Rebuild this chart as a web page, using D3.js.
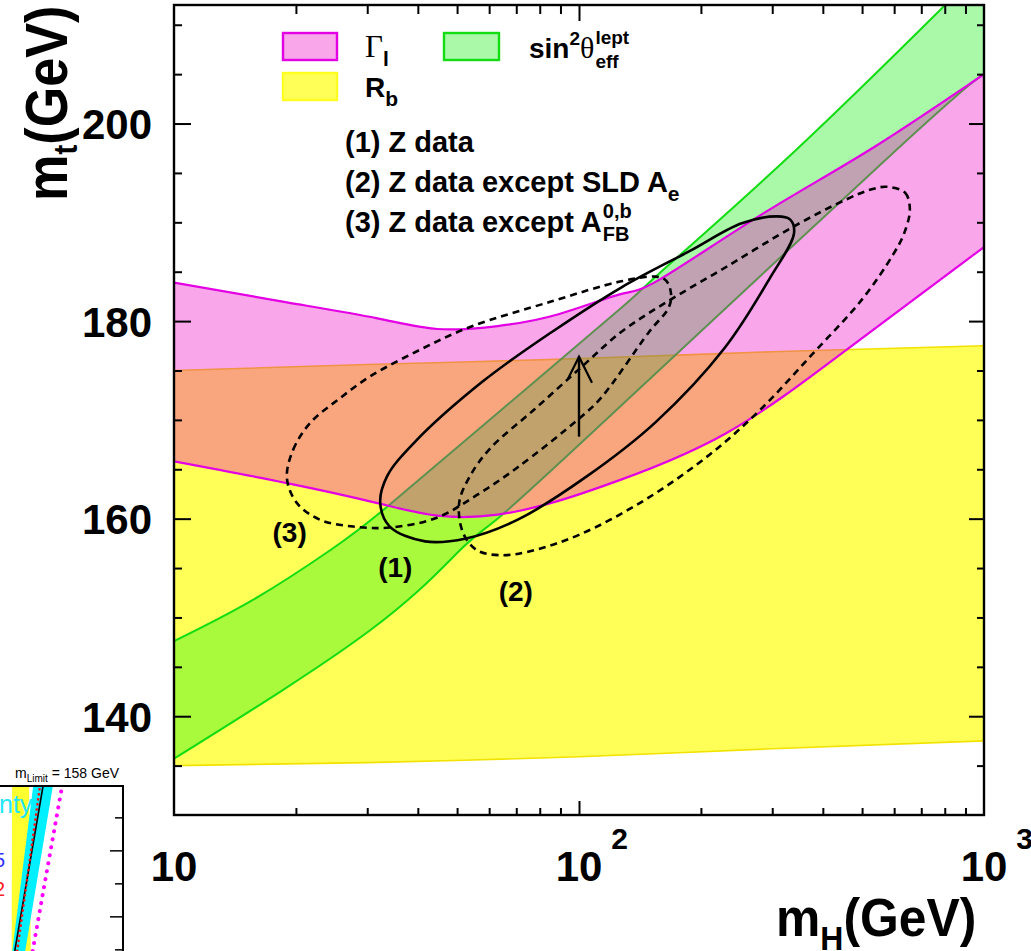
<!DOCTYPE html>
<html lang="en">
<head>
<meta charset="UTF-8">
<title>m_t versus m_H from Z data</title>
<script src="https://d3js.org/d3.v7.min.js"></script>
<style>
  body { margin: 0; background: #fff; }
  svg { display: block; font-family: 'Liberation Sans', Arial, sans-serif; }
  .b { font-weight: bold; }
  .tick line { stroke: #000; stroke-width: 2px; }
</style>
</head>
<body>
<div id="chart"></div>
<script>
// band edges, [mH (GeV), mt (GeV)]
const rbUpper = [[10,175.0],[30,175.6],[100,176.2],[300,176.9],[1000,177.5]];
const rbLower = [[10,135.0],[30,135.3],[100,135.9],[300,136.7],[1000,137.5]];

const gammaUpper = [[10,183.9],[19,181.9],[31.6,180.3],[44.7,179.2],[63,179.5],[89,180.7],
                    [126,182.7],[158,184.2],[280,190.7],[525,197.4],[1000,205.0]];
const gammaLower = [[10,165.8],[19,163.6],[31.6,161.6],[44.7,160.3],[63,160.4],[89,161.8],
                    [126,163.9],[232,168.7],[468,177.4],[1000,187.5]];

const sinUpper = [[10,147.6],[15.7,151.8],[24.3,156.8],[33.6,161.2],[63,170.7],[126,181.2],
                  [158.5,184.9],[345,197.4],[802,212.0],[1000,215.8]];
const sinLower = [[10,135.7],[30.5,148.7],[50.8,156.8],[63.8,160.2],[126,171.3],[610,197.4],[1000,205.0]];

// contours
const zData = [[32.3,161.6],[34.1,159.2],[41.7,157.7],[52.6,158.0],[70.6,159.9],[104.7,164.3],
               [154.9,169.8],[229.1,177.3],[296.5,184.4],[339.6,188.9],[331.9,190.3],[308.3,190.6],
               [252.3,189.9],[187.9,187.1],[127.1,183.4],[85.7,178.9],[57.9,173.9],[39.2,167.7],[33.6,164.3]];
const zNoSLD = [[575.4,193.6],[638.3,193.0],[656.1,191.3],[633.9,188.8],[595.7,186.7],[500.0,182.2],
                [375.8,176.6],[279.9,171.0],[210.4,166.5],[145.5,161.9],[100.5,158.4],[75.7,156.7],
                [63.8,156.3],[56.0,156.8],[51.8,158.5],[50.6,161.6],[53.8,164.3],[60.3,167.1],
                [77.8,171.1],[100.5,175.2],[127.1,178.9],[161.1,181.7],[229.1,185.4],[339.6,189.6],
                [456.0,192.3],[523.6,193.3]];
const zNoAfb = [[19.0,164.1],[19.7,167.0],[21.7,169.7],[25.7,172.2],[30.5,174.4],[40.5,177.1],
                [53.8,179.4],[85.7,182.0],[126.2,184.0],[154.9,184.5],[164.1,184.1],[168.7,182.8],
                [166.7,181.4],[148.9,178.9],[113.2,172.2],[100.5,170.2],[70.6,165.2],[56.0,162.4],
                [44.6,160.1],[34.1,159.1],[27.7,159.2],[22.9,159.9],[20.1,161.6]];

const curveLabels = [
  { text: "(1)", mH: 35.2, mt: 154.1 },
  { text: "(2)", mH: 69.8, mt: 151.7 },
  { text: "(3)", mH: 19.3, mt: 157.6 }
];
const arrowMH = 100, arrowFrom = 168.3, arrowTo = 176.4;

const mtMajor = [140, 160, 180, 200];
const mtMinor = [135, 145, 150, 155, 165, 170, 175, 185, 190, 195, 205, 210];
const mhMajor = [100];
const mhMinor = [20, 30, 40, 50, 60, 70, 80, 90, 200, 300, 400, 500, 600, 700, 800, 900];
const mhLabels = [[10, ""], [100, "2"], [1000, "3"]];

// cropped piece of a neighbouring figure (arbitrary units 0..10)
const insetBlack = [[1.2,0],[3.5,10]];
const insetRed = [[1.4,0],[3.25,10]];
const insetMagenta = [[2.65,0],[5.05,10]];
const insetCyan = [[[1.0,0],[2.7,10]], [[2.05,0],[4.3,10]]];
const insetYellow = [[[0.95,0],[0.98,10]], [[2.5,0],[2.36,10]]];
const insetTicks = [0.1, 2.1, 4.1, 6.1, 8.1];
const insetMajor = [2.1, 6.1];

const W = 1031, H = 951;
const svg = d3.select("#chart").append("svg").attr("width", W).attr("height", H);

const x = d3.scaleLog().domain([10, 1000]).range([174, 984]);
const y = d3.scaleLinear().domain([130, 212]).range([815, 5]);

svg.append("clipPath").attr("id", "plot")
  .append("rect").attr("x", 174).attr("y", 5).attr("width", 810).attr("height", 810);

const edge = d3.line().x(d => x(d[0])).y(d => y(d[1])).curve(d3.curveNatural);
const loop = d3.line().x(d => x(d[0])).y(d => y(d[1])).curve(d3.curveCatmullRomClosed.alpha(0.5));
function band(up, low) {
  return edge(up) + "L" + edge(low.slice().reverse()).slice(1) + "Z";
}

const plot = svg.append("g").attr("clip-path", "url(#plot)");

// R_b
plot.append("path").attr("d", band(rbUpper, rbLower)).attr("fill", "#ffff58");
[rbUpper, rbLower].forEach(e => plot.append("path").attr("d", edge(e))
  .attr("fill", "none").attr("stroke", "#f2e200").attr("stroke-width", 1.6));

// sin2theta
plot.append("path").attr("d", band(sinUpper, sinLower)).attr("fill", "rgba(10,238,10,0.35)");
[sinUpper, sinLower].forEach(e => plot.append("path").attr("d", edge(e))
  .attr("fill", "none").attr("stroke", "#12dd12").attr("stroke-width", 2));

// Gamma_l
plot.append("path").attr("d", band(gammaUpper, gammaLower)).attr("fill", "rgba(238,0,198,0.35)");
[gammaUpper, gammaLower].forEach(e => plot.append("path").attr("d", edge(e))
  .attr("fill", "none").attr("stroke", "#e400e4").attr("stroke-width", 2.2));

// contours
plot.append("path").attr("d", loop(zData)).attr("fill", "none")
  .attr("stroke", "#000").attr("stroke-width", 2.6);
[zNoSLD, zNoAfb].forEach(c => plot.append("path").attr("d", loop(c)).attr("fill", "none")
  .attr("stroke", "#000").attr("stroke-width", 2.6).attr("stroke-dasharray", "7 5"));

// arrow
svg.append("defs").append("marker").attr("id", "head")
  .attr("markerUnits", "userSpaceOnUse").attr("markerWidth", 60).attr("markerHeight", 60)
  .attr("refX", 30).attr("refY", 30).attr("orient", "auto")
  .append("path").attr("d", "M8,19 L30,30 L4,43").attr("fill", "none")
  .attr("stroke", "#000").attr("stroke-width", 2.2);
plot.append("line")
  .attr("x1", x(arrowMH)).attr("x2", x(arrowMH))
  .attr("y1", y(arrowFrom)).attr("y2", y(arrowTo))
  .attr("stroke", "#000").attr("stroke-width", 2.4).attr("marker-end", "url(#head)");

plot.selectAll(".clab").data(curveLabels).join("text")
  .attr("class", "b").attr("x", d => x(d.mH)).attr("y", d => y(d.mt))
  .attr("text-anchor", "middle").style("font-size", "28px").text(d => d.text);

// axes with inward ticks
function ticks(axis, tx, ty) {
  svg.append("g").attr("transform", `translate(${tx},${ty})`).call(axis)
    .call(g => g.select(".domain").remove());
}
ticks(d3.axisLeft(y).tickValues(mtMinor).tickSize(-8).tickFormat(""), 174, 0);
ticks(d3.axisRight(y).tickValues(mtMinor).tickSize(-7).tickFormat(""), 984, 0);
ticks(d3.axisRight(y).tickValues(mtMajor).tickSize(-15).tickFormat(""), 984, 0);
ticks(d3.axisTop(x).tickValues(mhMinor).tickSize(-9).tickFormat(""), 0, 5);
ticks(d3.axisTop(x).tickValues(mhMajor).tickSize(-16).tickFormat(""), 0, 5);
ticks(d3.axisBottom(x).tickValues(mhMinor).tickSize(-7).tickFormat(""), 0, 815);
ticks(d3.axisBottom(x).tickValues(mhMajor).tickSize(-14).tickFormat(""), 0, 815);

svg.append("g").attr("transform", "translate(174,0)")
  .call(d3.axisLeft(y).tickValues(mtMajor).tickSize(-17).tickPadding(22).tickFormat(d3.format("d")))
  .call(g => g.select(".domain").remove())
  .call(g => g.selectAll("text").attr("class", "b").attr("fill", "#000")
    .attr("dy", "0.36em").style("font-size", "42px").style("font-family", "'Liberation Sans', Arial, sans-serif"));

mhLabels.forEach(([v, p]) => {
  const t = svg.append("text").attr("class", "b").attr("x", x(v)).attr("y", 881)
    .attr("text-anchor", "middle").style("font-size", "42px").text("10");
  if (p) {
    const w = t.node().getComputedTextLength();
    svg.append("text").attr("class", "b").attr("x", x(v) + w / 2 + 9).attr("y", 849)
      .style("font-size", "30px").text(p);
  }
});

svg.append("rect").attr("x", 174).attr("y", 5).attr("width", 810).attr("height", 810)
  .attr("fill", "none").attr("stroke", "#000").attr("stroke-width", 2.4);

// axis titles
svg.append("text").attr("class", "b").attr("transform", "translate(67,201) rotate(-90) scale(0.87,1)")
  .style("font-size", "60px")
  .call(t => {
    t.append("tspan").text("m");
    t.append("tspan").attr("dy", 10).style("font-size", "34px").text("t");
    t.append("tspan").attr("dy", -10).text("(GeV)");
  });
svg.append("text").attr("class", "b").attr("transform", "translate(776,936) scale(0.94,1)")
  .style("font-size", "53px")
  .call(t => {
    t.append("tspan").text("m");
    t.append("tspan").attr("dy", 14).style("font-size", "34px").text("H");
    t.append("tspan").attr("dy", -14).text("(GeV)");
  });

// legend
const leg = svg.append("g");
leg.append("rect").attr("x", 283).attr("y", 33).attr("width", 54).attr("height", 27)
  .attr("fill", "rgba(238,0,198,0.35)").attr("stroke", "#e400e4").attr("stroke-width", 2.4);
leg.append("rect").attr("x", 283).attr("y", 73).attr("width", 54).attr("height", 27)
  .attr("fill", "#ffff58").attr("stroke", "#ffff20").attr("stroke-width", 2.4);
leg.append("rect").attr("x", 444).attr("y", 33).attr("width", 55).attr("height", 27)
  .attr("fill", "rgba(10,238,10,0.35)").attr("stroke", "#12dd12").attr("stroke-width", 2.4);

leg.append("text").attr("x", 365).attr("y", 57)
  .call(t => {
    t.append("tspan").style("font-family", "'Liberation Serif', serif").style("font-size", "31px").text("Γ");
    t.append("tspan").attr("class", "b").attr("dy", 9).style("font-size", "21px").text("l");
  });
leg.append("text").attr("class", "b").attr("x", 365).attr("y", 97).style("font-size", "28px")
  .call(t => {
    t.append("tspan").text("R");
    t.append("tspan").attr("dy", 9).style("font-size", "21px").text("b");
  });
const sinT = leg.append("text").attr("x", 529).attr("y", 58).style("font-size", "28px")
  .call(t => {
    t.append("tspan").attr("class", "b").text("sin");
    t.append("tspan").attr("class", "b").attr("dy", -13).style("font-size", "19px").text("2");
    t.append("tspan").attr("dy", 13).style("font-family", "'Liberation Serif', serif").style("font-size", "30px").text("θ");
  });
const sinEnd = 529 + sinT.node().getComputedTextLength() + 1;
leg.append("text").attr("class", "b").attr("x", sinEnd).attr("y", 44).style("font-size", "19px").text("lept");
leg.append("text").attr("class", "b").attr("x", sinEnd).attr("y", 68).style("font-size", "19px").text("eff");

leg.append("text").attr("class", "b").attr("x", 345).attr("y", 152).style("font-size", "29px").text("(1) Z data");
leg.append("text").attr("class", "b").attr("x", 345).attr("y", 192).style("font-size", "29px")
  .call(t => {
    t.append("tspan").text("(2) Z data except SLD A");
    t.append("tspan").attr("dy", 9).style("font-size", "21px").text("e");
  });
const l3 = leg.append("text").attr("class", "b").attr("x", 345).attr("y", 232).style("font-size", "29px")
  .text("(3) Z data except A");
const l3End = 345 + l3.node().getComputedTextLength() + 1;
leg.append("text").attr("class", "b").attr("x", l3End).attr("y", 218).style("font-size", "20px").text("0,b");
leg.append("text").attr("class", "b").attr("x", l3End).attr("y", 241).style("font-size", "20px").text("FB");

// cropped neighbour figure, bottom left
const ix = d3.scaleLinear().domain([0, 10]).range([0, 123]);
const iy = d3.scaleLinear().domain([0, 10]).range([951, 786]);
const iline = d3.line().x(d => ix(d[0])).y(d => iy(d[1]));
const inset = svg.append("g");
inset.append("path").attr("d", iline(insetYellow[0]) + "L" + iline(insetYellow[1].slice().reverse()).slice(1) + "Z")
  .attr("fill", "#ffff30");
inset.append("text").attr("x", -1).attr("y", 813).attr("fill", "#22e6ff")
  .style("font-size", "25px").text("nty");
inset.append("path").attr("d", iline(insetCyan[0]) + "L" + iline(insetCyan[1].slice().reverse()).slice(1) + "Z")
  .attr("fill", "#00f0ff");
inset.append("path").attr("d", iline(insetBlack)).attr("stroke", "#000").attr("stroke-width", 1.6);
inset.append("path").attr("d", iline(insetRed)).attr("stroke", "#ff1010").attr("stroke-width", 2.6)
  .attr("stroke-dasharray", "0.1 5").attr("stroke-linecap", "round");
inset.append("path").attr("d", iline(insetMagenta)).attr("stroke", "#ff00ff").attr("stroke-width", 4)
  .attr("stroke-dasharray", "0.1 8").attr("stroke-linecap", "round");
inset.append("text").attr("x", 5).attr("y", 867).attr("text-anchor", "end").attr("fill", "#3030ff")
  .style("font-size", "20px").text("5");
inset.append("text").attr("x", 5).attr("y", 896).attr("text-anchor", "end").attr("fill", "#ff2020")
  .style("font-size", "20px").text("2");
inset.append("path").attr("d", `M-5,${iy(10)}H${ix(10)}V${H + 5}`)
  .attr("fill", "none").attr("stroke", "#000").attr("stroke-width", 2);
inset.append("g").attr("transform", `translate(${ix(10)},0)`)
  .call(d3.axisRight(iy).tickValues(insetTicks).tickSize(0).tickFormat(""))
  .call(g => g.select(".domain").remove())
  .call(g => g.selectAll(".tick line").attr("x2", d => insetMajor.includes(d) ? -13 : -8)
    .style("stroke-width", "1.5px"));
inset.append("text").attr("x", 15).attr("y", 778).style("font-size", "14px")
  .call(t => {
    t.append("tspan").text("m");
    t.append("tspan").attr("dy", 4).style("font-size", "10px").text("Limit");
    t.append("tspan").attr("dy", -4).text(" = 158 GeV");
  });
</script>
</body>
</html>
